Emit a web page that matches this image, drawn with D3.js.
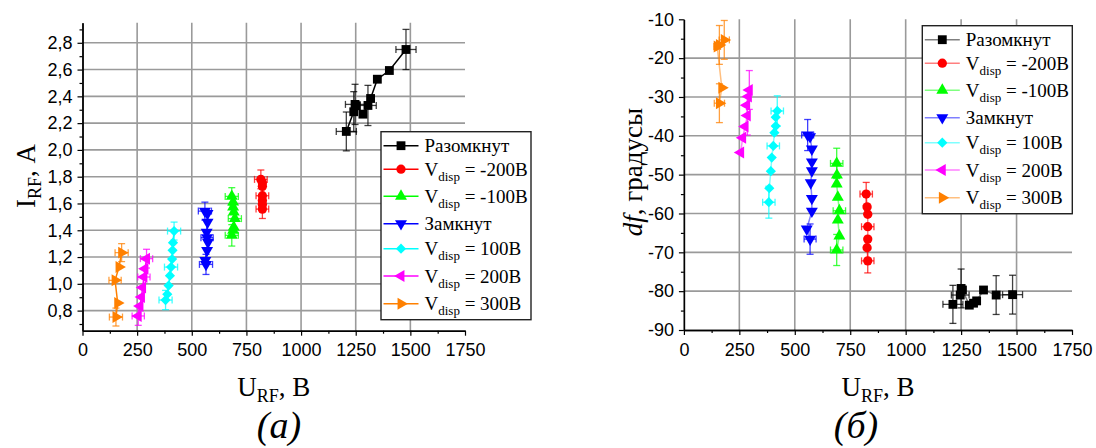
<!DOCTYPE html>
<html><head><meta charset="utf-8">
<script src="https://cdn.jsdelivr.net/npm/d3@7"></script>
<style>body{margin:0;background:#fff}svg{display:block}</style>
</head><body>
<svg id="c" width="1096" height="448"></svg>
<script>
// ================= DATA =================
const legendMain = ["Разомкнут","V","V","Замкнут","V","V","V"];
const legendSub  = ["","disp","disp","","disp","disp","disp"];
const legendRest = [""," = -200В"," = -100В",""," = 100В"," = 200В"," = 300В"];

const xTicks = [0,250,500,750,1000,1250,1500,1750];
const xTickLabels = ["0","250","500","750","1000","1250","1500","1750"];
const yTicksA = [0.8,1.0,1.2,1.4,1.6,1.8,2.0,2.2,2.4,2.6,2.8];
const yTickLabelsA = ["0,8","1,0","1,2","1,4","1,6","1,8","2,0","2,2","2,4","2,6","2,8"];
const yTicksB = [-90,-80,-70,-60,-50,-40,-30,-20,-10];
const yTickLabelsB = ["-90","-80","-70","-60","-50","-40","-30","-20","-10"];

// Panel (a): [U_RF (В), I_RF (А), ±U error, ±I error]
const a_open   = [[1207,2.138,46,0.145],[1241,2.285,0,0.15],[1247,2.34,44,0.15],[1253,2.33,0,0],[1283,2.267,0,0],[1306,2.332,38,0.15],[1318,2.384,0,0],[1349,2.528,0,0],[1404,2.593,0,0],[1480,2.75,46,0.15]];
const a_m200   = [[816,1.78,29,0.07],[823,1.755,0,0],[823,1.728,0,0],[823,1.658,29,0],[823,1.623,0,0],[823,1.593,0,0],[823,1.558,29,0.07]];
const a_m100   = [[683,1.653,30,0.065],[689,1.61,0,0],[689,1.573,0,0],[692,1.536,0,0],[697,1.487,30,0],[692,1.424,0,0],[689,1.40,0,0],[683,1.362,30,0.08]];
const a_closed = [[560,1.543,30,0.067],[572,1.525,0,0],[572,1.46,0,0],[568,1.385,0,0],[570,1.345,28,0],[574,1.31,0,0],[570,1.25,0,0],[562,1.175,0,0],[565,1.145,30,0.075]];
const a_p100   = [[419,1.394,30,0.067],[414,1.307,0,0],[412,1.25,0,0],[410,1.185,0,0],[405,1.125,30,0],[400,1.061,0,0],[394,0.987,0,0],[388,0.922,0,0],[380,0.879,30,0.072]];
const a_p200   = [[293,1.188,28,0.07],[286,1.113,0,0],[281,1.051,28,0],[275,0.972,0,0],[270,0.902,0,0],[263,0.835,0,0],[255,0.760,28,0.07]];
const a_p300   = [[179,1.233,30,0.067],[167,1.125,0,0],[149,1.026,28,0],[161,0.857,0,0],[153,0.752,30,0.067]];

// Panel (б): [U_RF (В), df (градусы), ±U error, ±df error]
const b_open   = [[1213,-83.4,45,4.9],[1246,-81.0,40,0],[1250,-79.3,0,5],[1256,-79.7,0,0],[1287,-83.6,0,0],[1306,-83.1,0,0],[1320,-82.5,0,0],[1351,-79.7,0,0],[1408,-81.0,0,5],[1482,-80.9,45,5]];
const b_m200   = [[822,-55.0,28,3],[826,-58.3,0,0],[829,-60.2,0,0],[829,-63.4,28,0],[829,-66.6,0,0],[826,-68.8,0,0],[829,-72.2,28,3.1]];
const b_m100   = [[689,-47.1,28,3.9],[690,-50.1,0,0],[689,-52.4,0,0],[694,-55.8,0,0],[701,-59.3,28,0],[694,-61.7,0,0],[701,-65.8,0,0],[689,-69.4,28,4]];
const b_closed = [[558,-39.8,27,4],[569,-40.2,0,0],[577,-43.4,0,0],[577,-46.7,0,0],[577,-49.0,0,0],[572,-52.1,0,0],[577,-56.1,0,0],[577,-59.4,0,0],[554,-64.0,0,0],[569,-66.6,27,3.9]];
const b_p100   = [[421,-33.6,28,3.9],[414,-35.2,0,0],[414,-37.5,0,0],[408,-39.2,0,0],[403,-42.6,28,0],[396,-45.6,0,0],[392,-49.1,0,0],[385,-53.5,0,0],[383,-57.1,28,4.1]];
const b_p200   = [[295,-28.2,0,5],[291,-29.9,0,0],[283,-32.1,0,0],[286,-34.8,0,5],[276,-37.6,0,0],[265,-40.5,0,0],[256,-44.3,0,0]];
const b_p300   = [[182,-15.3,23,5],[160,-16.6,0,5],[150,-17.0,15,0],[171,-27.6,0,0],[160,-31.6,23,5]];

// ================= STYLE =================
const colors  = ["#000000","#ff0000","#00ff00","#0000ff","#00ffff","#ff00ff","#ff8000"];
const symbols = ["square","circle","triUp","triDown","diamond","triLeft","triRight"];
const serif = "'Liberation Serif','Times New Roman',serif";
const sans  = "'Liberation Sans',Arial,sans-serif";

const svg = d3.select("#c");

function symbolPath(kind){
  switch(kind){
    case "square":  return {p:d3.symbol(d3.symbolSquare,78)(),r:0};
    case "circle":  return {p:d3.symbol(d3.symbolCircle,68)(),r:0};
    case "triUp":   return {p:d3.symbol(d3.symbolTriangle,62)(),r:0};
    case "triDown": return {p:d3.symbol(d3.symbolTriangle,62)(),r:180};
    case "triLeft": return {p:d3.symbol(d3.symbolTriangle,62)(),r:-90};
    case "triRight":return {p:d3.symbol(d3.symbolTriangle,62)(),r:90};
    case "diamond": return {p:d3.symbol(d3.symbolSquare,52)(),r:45};
  }
}

function panel(cfg){
  const g = svg.append("g");
  const x = d3.scaleLinear().domain([0,1750]).range([cfg.x0,cfg.x1]);
  const y = d3.scaleLinear().domain(cfg.yDomain).range([cfg.yb,cfg.yt]);

  // grid
  const grid = g.append("g").attr("stroke","#9a9a9a").attr("stroke-width",1.6);
  xTicks.filter(v=>v>0 && v<1750).forEach(v=>{
    grid.append("line").attr("x1",x(v)).attr("x2",x(v)).attr("y1",cfg.yt).attr("y2",cfg.yb);
  });
  cfg.yTicks.forEach(v=>{
    if (y(v) < cfg.yt+1 || y(v) > cfg.yb-1) return;
    grid.append("line").attr("x1",cfg.x0).attr("x2",cfg.x1).attr("y1",y(v)).attr("y2",y(v));
  });

  // axes
  const xMinor = d3.range(125,1750,250);
  const yMinor = cfg.yMinor;
  g.append("g").attr("transform",`translate(0,${cfg.yb})`)
    .call(d3.axisBottom(x).tickValues(xTicks).tickFormat((d,i)=>xTickLabels[i]).tickSize(5).tickSizeOuter(0).tickPadding(8));
  g.append("g").attr("transform",`translate(0,${cfg.yb})`)
    .call(d3.axisBottom(x).tickValues(xMinor).tickFormat("").tickSize(3).tickSizeOuter(0));
  g.append("g").attr("transform",`translate(${cfg.x0},0)`)
    .call(d3.axisLeft(y).tickValues(cfg.yTicks).tickFormat((d,i)=>cfg.yLabels[i]).tickSize(5).tickSizeOuter(0).tickPadding(5));
  g.append("g").attr("transform",`translate(${cfg.x0},0)`)
    .call(d3.axisLeft(y).tickValues(yMinor).tickFormat("").tickSize(3).tickSizeOuter(0));
  g.selectAll(".domain").attr("stroke","#000").attr("stroke-width",1.4);
  g.selectAll(".tick line").attr("stroke","#000").attr("stroke-width",1.2);
  g.selectAll(".tick text").attr("font-family",sans).attr("font-size",18).attr("fill","#000");

  // series
  const line = d3.line().x(d=>x(d[0])).y(d=>y(d[1]));
  cfg.series.forEach((data,si)=>{
    const c = colors[si];
    const sg = g.append("g");
    sg.append("path").attr("d",line(data)).attr("fill","none").attr("stroke",c)
      .attr("stroke-width",1.5).attr("stroke-opacity",cfg.lineOpacity);
    const eb = sg.append("g").attr("stroke",c).attr("stroke-width",1.3).attr("stroke-opacity",0.75);
    data.forEach(d=>{
      const px=x(d[0]), py=y(d[1]);
      if (d[2]>0){
        const xa=x(d[0]-d[2]), xb=x(d[0]+d[2]);
        eb.append("line").attr("x1",xa).attr("x2",xb).attr("y1",py).attr("y2",py);
        eb.append("line").attr("x1",xa).attr("x2",xa).attr("y1",py-3.5).attr("y2",py+3.5);
        eb.append("line").attr("x1",xb).attr("x2",xb).attr("y1",py-3.5).attr("y2",py+3.5);
      }
      if (d[3]>0){
        const ya=y(d[1]-d[3]), yb=y(d[1]+d[3]);
        eb.append("line").attr("x1",px).attr("x2",px).attr("y1",ya).attr("y2",yb);
        eb.append("line").attr("x1",px-3.5).attr("x2",px+3.5).attr("y1",ya).attr("y2",ya);
        eb.append("line").attr("x1",px-3.5).attr("x2",px+3.5).attr("y1",yb).attr("y2",yb);
      }
    });
    const sp = symbolPath(symbols[si]);
    sg.selectAll("path.m").data(data).enter().append("path").attr("class","m")
      .attr("d",sp.p).attr("fill",c)
      .attr("transform",d=>`translate(${x(d[0])},${y(d[1])}) rotate(${sp.r})`);
  });

  // legend
  const L = g.append("g");
  L.append("rect").attr("x",cfg.lx).attr("y",cfg.ly).attr("width",150).attr("height",188)
    .attr("fill","#fff").attr("stroke","#222").attr("stroke-width",1.4);
  const rows=[14,37.5,64.5,92,117,144.3,172];
  legendMain.forEach((m,i)=>{
    const cy = cfg.ly+rows[i];
    L.append("line").attr("x1",cfg.lx+2.5).attr("x2",cfg.lx+37.5).attr("y1",cy).attr("y2",cy)
      .attr("stroke",colors[i]).attr("stroke-width",1.5).attr("stroke-opacity",cfg.lineOpacity);
    const sp = symbolPath(symbols[i]);
    L.append("path").attr("d",sp.p).attr("fill",colors[i])
      .attr("transform",`translate(${cfg.lx+20},${cy}) rotate(${sp.r})`);
    const t = L.append("text").attr("x",cfg.lx+43.5).attr("y",cy+6.5)
      .attr("font-family",serif).attr("font-size",19).attr("fill","#000");
    t.append("tspan").text(m);
    if (legendSub[i]){
      t.append("tspan").attr("font-size",13).attr("dy",5).text(legendSub[i]);
      t.append("tspan").attr("dy",-5).text(legendRest[i]);
    }
  });

  // x title
  const xt = g.append("text").attr("x",(cfg.x0+cfg.x1)/2).attr("y",396).attr("text-anchor","middle")
    .attr("font-family",serif).attr("font-size",27).attr("fill","#000");
  xt.append("tspan").text("U");
  xt.append("tspan").attr("font-size",18).attr("dy",6).text("RF");
  xt.append("tspan").attr("dy",-6).text(", В");

  // caption
  g.append("text").attr("x",cfg.capX).attr("y",438).attr("text-anchor","middle")
    .attr("font-family",serif).attr("font-style","italic").attr("font-size",38).attr("fill","#000")
    .text(cfg.caption);
  return {g,x,y};
}

panel({x0:82.5,x1:465,yt:22.7,yb:330.7,yDomain:[0.65,2.95],
  yTicks:yTicksA,yLabels:yTickLabelsA,yMinor:d3.range(7,30,2).map(v=>v/10),
  series:[a_open,a_m200,a_m100,a_closed,a_p100,a_p200,a_p300],
  lineOpacity:1,lx:381,ly:131.7,capX:279,caption:"(а)"});
panel({x0:683.9,x1:1072,yt:19.3,yb:330,yDomain:[-90,-10],
  yTicks:yTicksB,yLabels:yTickLabelsB,yMinor:d3.range(-85,-10,10),
  series:[b_open,b_m200,b_m100,b_closed,b_p100,b_p200,b_p300],
  lineOpacity:0.5,lx:922.3,ly:25.7,capX:856,caption:"(б)"});

// y titles
const yta = svg.append("text").attr("transform","translate(35,176) rotate(-90)").attr("text-anchor","middle")
  .attr("font-family",serif).attr("font-size",27).attr("fill","#000");
yta.append("tspan").text("I");
yta.append("tspan").attr("font-size",18).attr("dy",6).text("RF");
yta.append("tspan").attr("dy",-6).text(", А");

const ytb = svg.append("text").attr("transform","translate(642,172) rotate(-90)").attr("text-anchor","middle")
  .attr("font-family",serif).attr("font-size",27).attr("fill","#000");
ytb.append("tspan").attr("font-style","italic").text("df");
ytb.append("tspan").text(", градусы");
</script>
</body></html>
